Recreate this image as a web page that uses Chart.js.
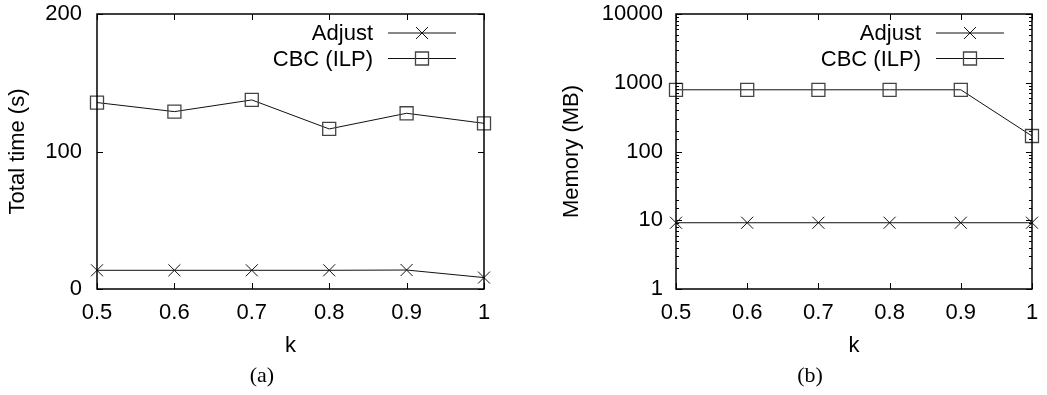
<!DOCTYPE html>
<html>
<head>
<meta charset="utf-8">
<script src="https://cdn.jsdelivr.net/npm/chart.js@4"></script>
<style>
  body { margin: 0; background: #fff; }
  #wrap { position: relative; width: 1047px; height: 395px; }
  canvas { position: absolute; top: 0; }
  .cap { position: absolute; top: 362px; font: 22px "Liberation Serif", serif; color: #000; width: 60px; text-align: center; }
</style>
</head>
<body>
<div id="wrap">
  <canvas id="timeChart" width="520" height="395" style="left:0"></canvas>
  <canvas id="memChart" width="527" height="395" style="left:520px"></canvas>
  <div class="cap" style="left:232px">(a)</div>
  <div class="cap" style="left:780px">(b)</div>
</div>
<script>
const kLabels = ['0.5', '0.6', '0.7', '0.8', '0.9', '1'];
const seriesNames = ['Adjust', 'CBC (ILP)'];

// total time (s)
const adjustTime = [13.6, 13.6, 13.6, 13.6, 13.8, 8.3];
const cbcTime = [135.6, 129, 137.5, 116.4, 127.8, 120.5];

// memory (MB)
const adjustMem = [9.2, 9.2, 9.2, 9.2, 9.2, 9.2];
const cbcMem = [790, 790, 790, 790, 790, 168];

const timeTicks = [0, 100, 200];
const memTicks = [1, 10, 100, 1000, 10000];

const FONT = '"Liberation Sans", Arial, sans-serif';
const FSIZE = 22;

// gnuplot style frame: box + inward ticks on all sides, plus legend
const framePlugin = {
  id: 'frame',
  afterDatasetsDraw(chart, args, opts) {
    const ctx = chart.ctx;
    const a = chart.chartArea;
    const xs = chart.scales.x, ys = chart.scales.y;
    ctx.save();
    ctx.strokeStyle = '#000';
    ctx.lineWidth = 1.5;
    ctx.strokeRect(a.left, a.top, a.right - a.left, a.bottom - a.top);
    ctx.lineWidth = 1;
    ctx.beginPath();
    xs.ticks.forEach((t, i) => {
      const px = Math.round(xs.getPixelForTick(i)) + 0.5;
      ctx.moveTo(px, a.bottom); ctx.lineTo(px, a.bottom - 6);
      ctx.moveTo(px, a.top); ctx.lineTo(px, a.top + 6);
    });
    ys.ticks.forEach(t => {
      const major = opts.major.includes(t.value);
      const len = major ? 6 : 3;
      const py = Math.round(ys.getPixelForValue(t.value)) + 0.5;
      ctx.moveTo(a.left, py); ctx.lineTo(a.left + len, py);
      ctx.moveTo(a.right, py); ctx.lineTo(a.right - len, py);
    });
    ctx.stroke();

    // legend
    ctx.font = FSIZE + 'px ' + FONT;
    ctx.textAlign = 'right';
    ctx.textBaseline = 'middle';
    chart.data.datasets.forEach((ds, i) => {
      const y = a.top + 19 + i * 25.5;
      ctx.fillStyle = '#000';
      ctx.fillText(ds.label, a.right - 111, y + 1);
      ctx.strokeStyle = '#111';
      ctx.lineWidth = 1;
      ctx.beginPath();
      ctx.moveTo(a.right - 96, y); ctx.lineTo(a.right - 28, y);
      ctx.stroke();
      ctx.fillStyle = 'rgba(0,0,0,0)';
      ctx.strokeStyle = ds.pointBorderColor;
      ctx.lineWidth = ds.pointBorderWidth;
      Chart.helpers.drawPoint(ctx, { pointStyle: ds.pointStyle, radius: ds.pointRadius, borderWidth: ds.pointBorderWidth }, a.right - 62, y);
    });
    ctx.restore();
  }
};

function makeDatasets(adj, cbc) {
  return [
    { label: seriesNames[0], data: adj, borderColor: '#111', borderWidth: 1, pointStyle: 'crossRot', pointRadius: 8.5,
      pointBorderColor: '#111', pointBorderWidth: 1, pointBackgroundColor: 'transparent', tension: 0, clip: false },
    { label: seriesNames[1], data: cbc, borderColor: '#111', borderWidth: 1, pointStyle: 'rect', pointRadius: 9.2,
      pointBorderColor: '#444', pointBorderWidth: 1.3, pointBackgroundColor: 'transparent', tension: 0, clip: false }
  ];
}

function makeOptions(yScale, yWidth, yTitle, yTitlePad, rightPad, majorTicks) {
  return {
    responsive: false,
    animation: false,
    devicePixelRatio: 1,
    layout: { padding: { left: 0, top: 14, right: rightPad, bottom: 36 } },
    plugins: { legend: { display: false }, tooltip: { enabled: false }, frame: { major: majorTicks } },
    scales: {
      x: {
        type: 'category', labels: kLabels, offset: false,
        grid: { display: false, drawTicks: false }, border: { display: false },
        ticks: { color: '#000', padding: 11, font: { family: FONT, size: FSIZE }, maxRotation: 0, autoSkip: false },
        title: { display: true, text: 'k', color: '#000', font: { family: FONT, size: FSIZE }, padding: { top: 0, bottom: 0 } },
        afterFit: s => { s.height = 70; s.paddingLeft = 0; s.paddingRight = 0; }
      },
      y: Object.assign(yScale, {
        grid: { display: false, drawTicks: false }, border: { display: false },
        title: { display: true, text: yTitle, color: '#000', font: { family: FONT, size: FSIZE }, padding: { top: yTitlePad, bottom: 0 } },
        afterFit: s => { s.width = yWidth; s.paddingTop = 0; s.paddingBottom = 0; }
      })
    }
  };
}

new Chart(document.getElementById('timeChart'), {
  type: 'line',
  data: { labels: kLabels, datasets: makeDatasets(adjustTime, cbcTime) },
  options: makeOptions({
    type: 'linear', min: 0, max: 200,
    ticks: { stepSize: 100, color: '#000', padding: 15, font: { family: FONT, size: FSIZE } }
  }, 97, 'Total time (s)', 5, 36, timeTicks),
  plugins: [framePlugin]
});

new Chart(document.getElementById('memChart'), {
  type: 'line',
  data: { labels: kLabels, datasets: makeDatasets(adjustMem, cbcMem) },
  options: makeOptions({
    type: 'logarithmic', min: 1, max: 10000,
    ticks: { color: '#000', padding: 13, autoSkip: false, font: { family: FONT, size: FSIZE },
      callback: v => memTicks.includes(v) ? String(v) : '' }
  }, 156, 'Memory (MB)', 39, 15, memTicks),
  plugins: [framePlugin]
});
</script>
</body>
</html>
